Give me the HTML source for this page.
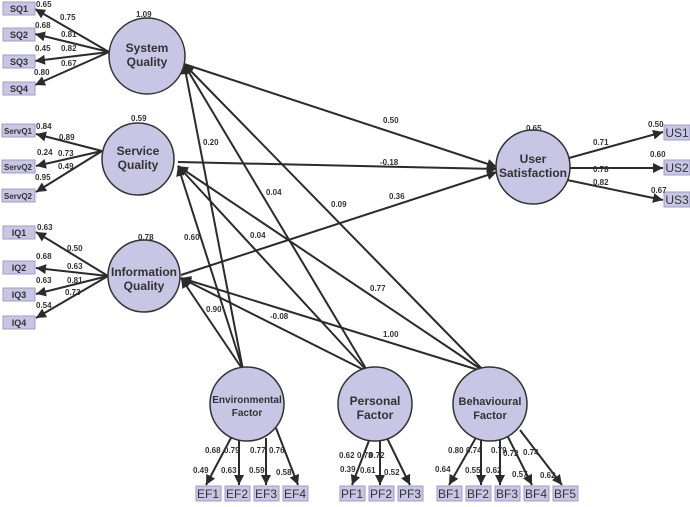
<!DOCTYPE html>
<html><head><meta charset="utf-8"><style>
body{margin:0;background:#fff}
svg text{font-family:"Liberation Sans",sans-serif}
.c{fill:#c8c6e4;stroke:#333;stroke-width:1.5}
.b{fill:#c8c6e4;stroke:#9f9cc8;stroke-width:1}
.l{stroke:#2b2b2b;stroke-width:2;fill:none;marker-end:url(#a)}
.n{font-size:8px;font-weight:bold;fill:#333}
.t{font-size:12px;font-weight:bold;fill:#333;text-anchor:middle}
.bt{font-size:9px;font-weight:bold;fill:#333;text-anchor:middle}
.bb{font-size:12px;fill:#333;text-anchor:middle}
</style></head><body>
<svg width="690" height="502" viewBox="0 0 690 502" xmlns="http://www.w3.org/2000/svg">
<defs><marker id="a" viewBox="0 0 10 10" refX="10" refY="5" markerWidth="5" markerHeight="5" orient="auto"><path d="M0,0L10,5L0,10z" fill="#2b2b2b"/></marker></defs>
<!-- measurement arrows -->
<g class="l">
<line x1="109" y1="52" x2="35" y2="9"/><line x1="109" y1="52" x2="35" y2="34"/><line x1="109" y1="52" x2="35" y2="61"/><line x1="109" y1="52" x2="35" y2="85"/>
<line x1="102" y1="151" x2="36" y2="134"/><line x1="102" y1="151" x2="36" y2="166"/><line x1="102" y1="151" x2="36" y2="192"/>
<line x1="108" y1="276" x2="36" y2="232"/><line x1="108" y1="276" x2="36" y2="268"/><line x1="108" y1="276" x2="36" y2="294"/><line x1="108" y1="276" x2="36" y2="318"/>
<line x1="569" y1="158" x2="663" y2="132"/><line x1="570" y1="168" x2="663" y2="168"/><line x1="567" y1="180" x2="663" y2="200"/>
<line x1="232" y1="436" x2="206" y2="485"/><line x1="239" y1="438" x2="239" y2="485"/><line x1="266" y1="438" x2="266" y2="485"/><line x1="276" y1="428" x2="298" y2="485"/>
<line x1="370" y1="438" x2="352" y2="485"/><line x1="380" y1="440" x2="380" y2="485"/><line x1="387" y1="438" x2="410" y2="485"/>
<line x1="478" y1="434" x2="449" y2="485"/><line x1="481" y1="440" x2="481" y2="485"/><line x1="500" y1="440" x2="500" y2="485"/><line x1="508" y1="437" x2="532" y2="485"/><line x1="520" y1="430" x2="562" y2="485"/>
<!-- structural -->
<line x1="243" y1="370" x2="184" y2="64"/><line x1="243" y1="370" x2="178" y2="166"/><line x1="243" y1="370" x2="181" y2="278"/>
<line x1="368" y1="372" x2="184" y2="64"/><line x1="368" y1="372" x2="178" y2="166"/><line x1="368" y1="372" x2="181" y2="278"/>
<line x1="485" y1="372" x2="184" y2="64"/><line x1="485" y1="372" x2="178" y2="166"/><line x1="485" y1="372" x2="181" y2="278"/>
<line x1="184" y1="64" x2="497" y2="167"/><line x1="178" y1="162" x2="497" y2="169"/><line x1="181" y1="275" x2="497" y2="172"/>
</g>
<!-- circles -->
<circle class="c" cx="147" cy="56" r="38"/><circle class="c" cx="138" cy="159" r="36"/><circle class="c" cx="144" cy="276" r="36"/>
<circle class="c" cx="533" cy="167" r="37"/><circle class="c" cx="247" cy="404" r="37"/><circle class="c" cx="375" cy="404" r="37"/><circle class="c" cx="490" cy="404" r="37"/>
<text class="t" x="147" y="52">System</text><text class="t" x="147" y="66">Quality</text>
<text class="t" x="138" y="155">Service</text><text class="t" x="138" y="169">Quality</text>
<text class="t" x="144" y="276">Information</text><text class="t" x="144" y="290">Quality</text>
<text class="t" x="533" y="163">User</text><text class="t" x="533" y="177">Satisfaction</text>
<text class="t" x="247" y="403" style="font-size:10px">Environmental</text><text class="t" x="247" y="416" style="font-size:10px">Factor</text>
<text class="t" x="375" y="405">Personal</text><text class="t" x="375" y="419">Factor</text>
<text class="t" x="490" y="405" style="font-size:11px">Behavioural</text><text class="t" x="490" y="419" style="font-size:11px">Factor</text>
<!-- boxes -->
<g class="b">
<rect x="3" y="2" width="32" height="13"/><rect x="3" y="28" width="32" height="13"/><rect x="3" y="55" width="32" height="13"/><rect x="3" y="82" width="32" height="13"/>
<rect x="2" y="124" width="33" height="13"/><rect x="2" y="160" width="33" height="13"/><rect x="2" y="189" width="33" height="13"/>
<rect x="3" y="226" width="32" height="13"/><rect x="3" y="261" width="32" height="13"/><rect x="3" y="288" width="32" height="13"/><rect x="3" y="316" width="32" height="13"/>
<rect x="664" y="125" width="26" height="15"/><rect x="664" y="160" width="26" height="15"/><rect x="664" y="192" width="26" height="15"/>
<rect x="196" y="486" width="25" height="15"/><rect x="225" y="486" width="25" height="15"/><rect x="254" y="486" width="25" height="15"/><rect x="283" y="486" width="25" height="15"/>
<rect x="340" y="486" width="25" height="15"/><rect x="369" y="486" width="25" height="15"/><rect x="398" y="486" width="25" height="15"/>
<rect x="437" y="486" width="25" height="15"/><rect x="466" y="486" width="25" height="15"/><rect x="495" y="486" width="25" height="15"/><rect x="524" y="486" width="25" height="15"/><rect x="553" y="486" width="25" height="15"/>
</g>
<text class="bt" x="19" y="12">SQ1</text><text class="bt" x="19" y="38">SQ2</text><text class="bt" x="19" y="65">SQ3</text><text class="bt" x="19" y="92">SQ4</text>
<text class="bt" x="18" y="134" style="font-size:8px">ServQ1</text><text class="bt" x="18" y="170" style="font-size:8px">ServQ2</text><text class="bt" x="18" y="199" style="font-size:8px">ServQ2</text>
<text class="bt" x="19" y="236">IQ1</text><text class="bt" x="19" y="271">IQ2</text><text class="bt" x="19" y="298">IQ3</text><text class="bt" x="19" y="326">IQ4</text>
<text class="bb" x="677" y="137">US1</text><text class="bb" x="677" y="172">US2</text><text class="bb" x="677" y="204">US3</text>
<text class="bb" x="208" y="498">EF1</text><text class="bb" x="237" y="498">EF2</text><text class="bb" x="266" y="498">EF3</text><text class="bb" x="295" y="498">EF4</text>
<text class="bb" x="352" y="498">PF1</text><text class="bb" x="381" y="498">PF2</text><text class="bb" x="410" y="498">PF3</text>
<text class="bb" x="449" y="498">BF1</text><text class="bb" x="478" y="498">BF2</text><text class="bb" x="507" y="498">BF3</text><text class="bb" x="536" y="498">BF4</text><text class="bb" x="565" y="498">BF5</text>
<!-- numbers -->
<g class="n">
<text x="36" y="7">0.65</text><text x="60" y="20">0.75</text><text x="35" y="28">0.68</text><text x="61" y="37">0.81</text><text x="35" y="51">0.45</text><text x="61" y="51">0.82</text><text x="34" y="75">0.80</text><text x="61" y="66">0.67</text>
<text x="136" y="17">1.09</text><text x="131" y="121">0.59</text><text x="138" y="240">0.78</text>
<text x="36" y="129">0.84</text><text x="59" y="140">0.89</text><text x="37" y="155">0.24</text><text x="58" y="156">0.73</text><text x="58" y="169">0.49</text><text x="35" y="180">0.95</text>
<text x="37" y="230">0.63</text><text x="67" y="251">0.50</text><text x="36" y="259">0.68</text><text x="67" y="269">0.63</text><text x="36" y="283">0.63</text><text x="67" y="283">0.81</text><text x="36" y="308">0.54</text><text x="65" y="295">0.73</text>
<text x="526" y="131">0.65</text><text x="593" y="145">0.71</text><text x="593" y="172">0.78</text><text x="593" y="185">0.82</text>
<text x="648" y="127">0.50</text><text x="650" y="157">0.60</text><text x="651" y="193">0.67</text>
<text x="203" y="145">0.20</text><text x="184" y="240">0.60</text><text x="206" y="312">0.90</text>
<text x="266" y="195">0.04</text><text x="250" y="238">0.04</text><text x="270" y="319">-0.08</text>
<text x="331" y="207">0.09</text><text x="370" y="291">0.77</text><text x="383" y="337">1.00</text>
<text x="383" y="123">0.50</text><text x="380" y="165">-0.18</text><text x="389" y="199">0.36</text>
<text x="205" y="453">0.68</text><text x="224" y="453">0.79</text><text x="250" y="453">0.77</text><text x="269" y="453">0.76</text>
<text x="193" y="473">0.49</text><text x="221" y="473">0.63</text><text x="249" y="473">0.59</text><text x="276" y="475">0.58</text>
<text x="339" y="458">0.62</text><text x="357" y="458">0.78</text><text x="369" y="458">0.72</text>
<text x="340" y="472">0.39</text><text x="360" y="473">0.61</text><text x="384" y="475">0.52</text>
<text x="448" y="453">0.80</text><text x="466" y="453">0.74</text><text x="491" y="453">0.79</text><text x="503" y="456">0.72</text><text x="523" y="455">0.74</text>
<text x="435" y="472">0.64</text><text x="465" y="473">0.55</text><text x="486" y="473">0.62</text><text x="512" y="477">0.57</text><text x="540" y="478">0.62</text>
</g>
</svg>
</body></html>
